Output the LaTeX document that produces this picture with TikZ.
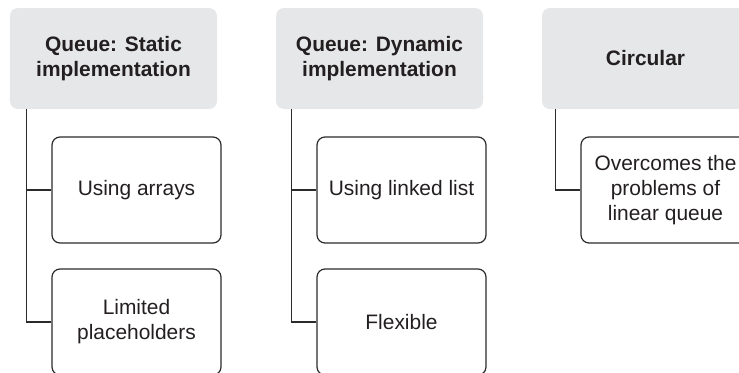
\documentclass[tikz,border=0pt]{standalone}
\usepackage{fontspec}
\setmainfont{Liberation Sans}
\usetikzlibrary{positioning}
\definecolor{hdrfill}{HTML}{E6E7E8}
\definecolor{ink}{HTML}{231F20}
\definecolor{wire}{HTML}{2B2B2B}
\tikzset{
  hdr/.style={rectangle, rounded corners=8bp, fill=hdrfill, text=ink,
    minimum width=207bp, minimum height=101bp, align=center, inner sep=0pt,
    font=\fontsize{21}{25}\selectfont\bfseries},
  leaf/.style={rectangle, rounded corners=8bp, draw=wire, line width=1.2bp, fill=white,
    text=ink, minimum width=169bp, minimum height=106bp, align=center, inner sep=0pt,
    font=\fontsize{21}{25}\selectfont},
  link/.style={draw=wire, line width=1.2bp},
}
\begin{document}
\begin{tikzpicture}[x=1bp, y=-1bp]
  \useasboundingbox (0,0) rectangle (739,372);
  \clip (0,0) rectangle (739,372);

  % column 1: static queue
  \node[hdr]  (h1) at (113.5,58.5) {Queue: Static\\implementation};
  \node[leaf] (a1) at (136.5,190) {Using arrays};
  \node[leaf] (a2) at (136.5,322) {Limited\\placeholders};

  % column 2: dynamic queue
  \node[hdr]  (h2) at (379.5,58.5) {Queue: Dynamic\\implementation};
  \node[leaf] (b1) at (401.5,190) {Using linked list};
  \node[leaf] (b2) at (401.5,322) {Flexible};

  % column 3: circular queue
  \node[hdr]  (h3) at (645.5,58.5) {Circular};
  \node[leaf] (c1) at (665.5,190) {Overcomes the\\problems of\\linear queue};

  % elbow connectors from each header down to its items
  \draw[link] ([xshift=17bp]h1.south west) |- (a1.west);
  \draw[link] ([xshift=17bp]h1.south west) |- (a2.west);
  \draw[link] ([xshift=16bp]h2.south west) |- (b1.west);
  \draw[link] ([xshift=16bp]h2.south west) |- (b2.west);
  \draw[link] ([xshift=14bp]h3.south west) |- (c1.west);
\end{tikzpicture}
\end{document}
